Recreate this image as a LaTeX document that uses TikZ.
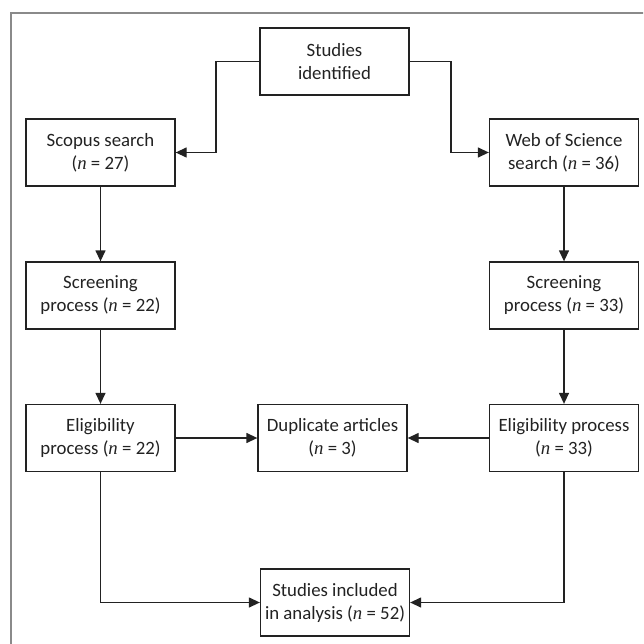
\documentclass[tikz,border=0pt]{standalone}
\usepackage{fontspec}
\setmainfont{Carlito}
\newfontfamily\nfont{Liberation Serif}
\newcommand{\nn}{{\nfont\itshape n}}
\usetikzlibrary{arrows.meta}
\definecolor{ink}{HTML}{222222}
\definecolor{framegrey}{HTML}{8A8A8A}
\tikzset{
  stagebox/.style={draw=ink, line width=1.3pt, minimum width=149pt, minimum height=67pt,
    inner sep=0pt, align=center, text=ink,
    font=\fontsize{18.8pt}{23pt}\selectfont},
  arr/.style={draw=ink, line width=1.3pt, -{Triangle[length=11pt,width=10pt]}},
}
\begin{document}
\begin{tikzpicture}[x=1pt,y=-1pt]
  \clip (0,0) rectangle (643,644);
  \draw[framegrey, line width=1.6pt] (11,13) rectangle (700,700);

  \node[stagebox] (id)     at (334.5,61.5) {Studies\\identified};
  \node[stagebox] (scopus) at (100.5,152.5) {Scopus search\\(\nn{} = 27)};
  \node[stagebox] (wos)    at (564,152.5) {Web of Science\\search (\nn{} = 36)};
  \node[stagebox] (scr1)   at (100.5,295.5) {Screening\\process (\nn{} = 22)};
  \node[stagebox] (scr2)   at (564,295.5) {Screening\\process (\nn{} = 33)};
  \node[stagebox] (elig1)  at (100.5,438) {Eligibility\\process (\nn{} = 22)};
  \node[stagebox] (dup)    at (332.5,438) {Duplicate articles\\(\nn{} = 3)};
  \node[stagebox] (elig2)  at (564,438) {Eligibility process\\(\nn{} = 33)};
  \node[stagebox] (incl)   at (335,602.5) {Studies included\\in analysis (\nn{} = 52)};

  \coordinate (lt) at (216,61.5);
  \coordinate (rt) at (451,61.5);
  \draw[arr] (id.west) -- (lt) |- (scopus.east);
  \draw[arr] (id.east) -- (rt) |- (wos.west);
  \draw[arr] (scopus) -- (scr1);
  \draw[arr] (scr1) -- (elig1);
  \draw[arr] (wos) -- (scr2);
  \draw[arr] (scr2) -- (elig2);
  \draw[arr] (elig1) -- (dup);
  \draw[arr] (elig2) -- (dup);
  \draw[arr] (elig1.south) |- (incl.west);
  \draw[arr] (elig2.south) |- (incl.east);
\end{tikzpicture}
\end{document}
